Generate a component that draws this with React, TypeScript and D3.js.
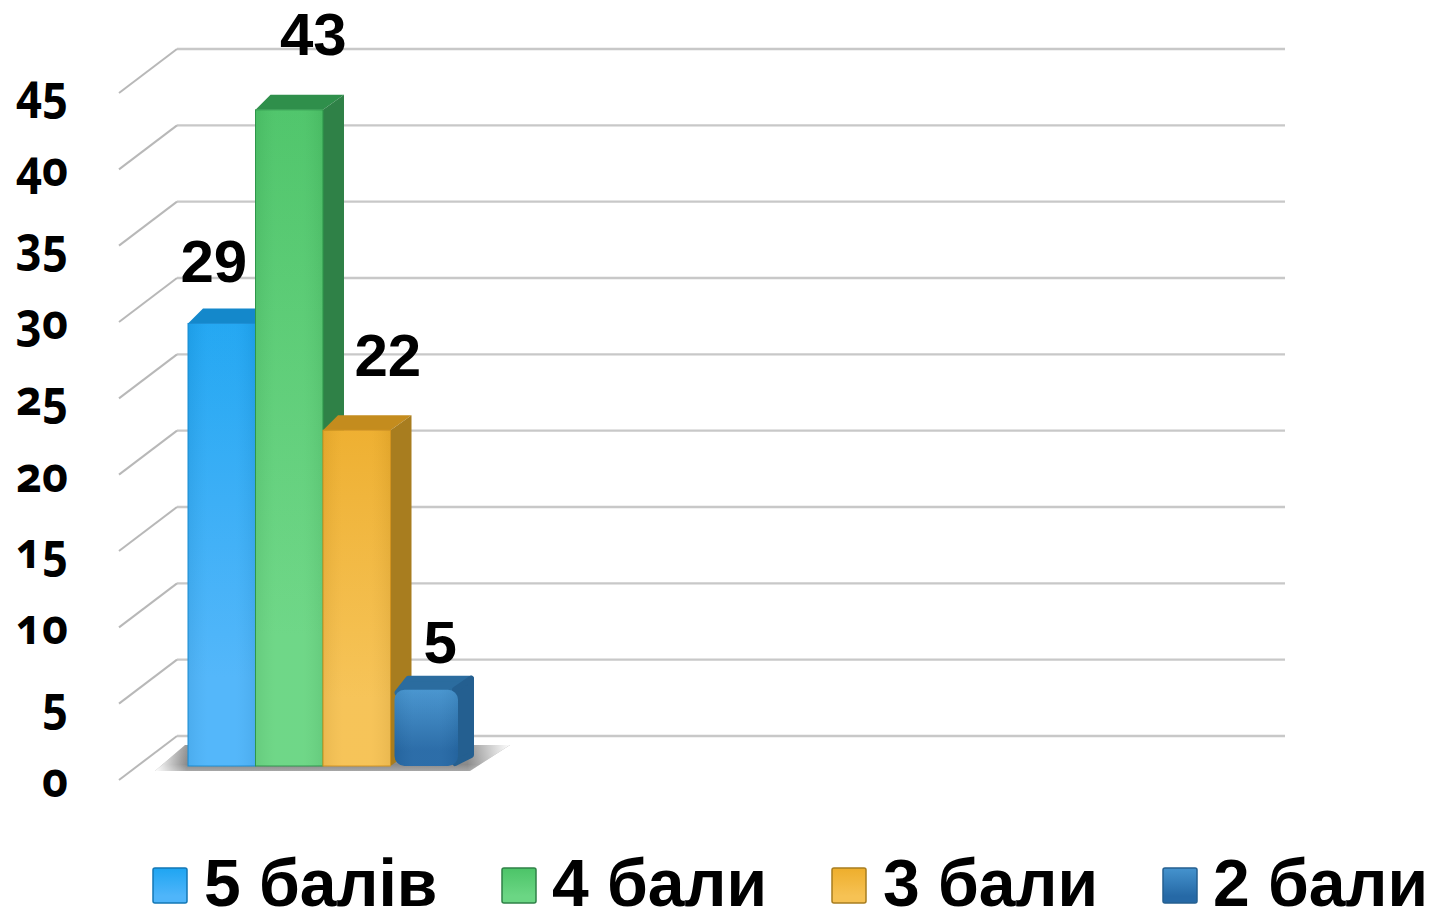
import React from "react";
import * as d3 from "d3";

const seriesNames = ["5 балів", "4 бали", "3 бали", "2 бали"];
const seriesValues = [29, 43, 22, 5];
const tickValues = [0, 5, 10, 15, 20, 25, 30, 35, 40, 45];
const palette = [
  { id: "blue", top: "#1ea5f2", bottom: "#4fb5fa", edge: "#1a8fd6", cap: "#1488cb", side: "#1377b5" },
  { id: "green", top: "#4cc468", bottom: "#6bd684", edge: "#2f9a4c", cap: "#2f8f4b", side: "#2f8147" },
  { id: "yellow", top: "#eeae2c", bottom: "#f6c254", edge: "#d8971f", cap: "#c48c1e", side: "#a87d1f" },
  { id: "navy", top: "#4593ce", bottom: "#2669a6", edge: "#2a6fa8", cap: "#2b6c9f", side: "#245f90" },
];
const labelDx = [-8, 24, 31, 16];
const labelDy = [41, 55, 54, 27];
const legendSwatchX = [153, 502, 832, 1163];
const legendTextX = [204, 552, 883, 1213];

const yWall = d3.scaleLinear().domain([0, 45]).range([736, 49]);
const yFront = d3.scaleLinear().domain([0, 45]).range([766, 766 - 45 * 15.26]);
const xBar = d3.scaleBand<string>().domain(seriesNames).range([188, 458]).padding(0);
const wallX = d3.scaleLinear().domain([0, 1]).range([177, 1285]);
const depth = { x: -58, y: 44 };
const barDepth = { x: 21, y: -15 };

const digitFont = "'Open Sans', 'Noto Sans', sans-serif";
const labelFont = "'Liberation Sans', Arial, sans-serif";

const linePath = d3.line<[number, number]>();

export default function App() {
  return (
    <svg width={1439} height={911} style={{ position: "absolute", left: 0, top: 0, background: "#fff" }}>
      <defs>
        {palette.map((c) => (
          <linearGradient key={c.id} id={`front-${c.id}`} x1="0" y1="0" x2="0" y2="1">
            <stop offset="0" stopColor={c.top} />
            <stop offset="0.8" stopColor={c.bottom} />
            <stop offset="1" stopColor={c.bottom} />
          </linearGradient>
        ))}
        <linearGradient id="sheen" x1="0" y1="0" x2="1" y2="0">
          <stop offset="0" stopColor="#000" stopOpacity="0.05" />
          <stop offset="0.3" stopColor="#fff" stopOpacity="0.03" />
          <stop offset="0.7" stopColor="#fff" stopOpacity="0.03" />
          <stop offset="1" stopColor="#000" stopOpacity="0.05" />
        </linearGradient>
        <linearGradient id="floor" x1="0" y1="1" x2="0" y2="0">
          <stop offset="0" stopColor="#a8a8a8" />
          <stop offset="0.25" stopColor="#8a8a8a" />
          <stop offset="1" stopColor="#9a9a9a" />
        </linearGradient>
        <linearGradient id="floorFade" x1="0" y1="0" x2="1" y2="0">
          <stop offset="0" stopColor="#fff" stopOpacity="1" />
          <stop offset="0.09" stopColor="#fff" stopOpacity="0" />
          <stop offset="0.88" stopColor="#fff" stopOpacity="0" />
          <stop offset="1" stopColor="#fff" stopOpacity="1" />
        </linearGradient>
        <filter id="soft" x="-5%" y="-30%" width="110%" height="160%">
          <feGaussianBlur stdDeviation="0.7" />
        </filter>
      </defs>

      {tickValues.map((t) => {
        const y = yWall(t);
        const ly = y + depth.y + 17;
        return (
          <g key={t}>
            <path d={linePath([[wallX(0), y], [wallX(1), y]]) ?? ""} stroke="#c8c8c8" strokeWidth={2.4} fill="none" />
            <path
              d={linePath([[wallX(0), y], [wallX(0) + depth.x, y + depth.y]]) ?? ""}
              stroke="#b8b8b8"
              strokeWidth={2}
              fill="none"
            />
            <text
              transform={`translate(68,${ly}) scale(0.9,1)`}
              textAnchor="end"
              fontFamily={digitFont}
              fontWeight={700}
              fontSize={50}
              fill="#000"
              style={{ fontFeatureSettings: "'onum'" }}
            >
              {t}
            </text>
          </g>
        );
      })}

      <g filter="url(#soft)">
        <polygon points="155,771 185,745 510,745 470,771" fill="url(#floor)" />
        <polygon points="155,771 185,745 510,745 470,771" fill="url(#floorFade)" />
      </g>

      {seriesNames.map((name, i) => {
        const c = palette[i];
        const navy = i === 3;
        const x0 = xBar(name)! + (navy ? 4 : 0);
        const x1 = xBar(name)! + xBar.bandwidth();
        const yTop = yFront(seriesValues[i]);
        const yBase = yFront(0);
        const dx = navy ? 13 : barDepth.x;
        const dy = navy ? -11 : barDepth.y;
        const inset = navy ? 3 : 0;
        return (
          <g key={name}>
            <polygon
              points={`${x0 + inset},${yTop + inset} ${x0 - dy + inset},${yTop + dy} ${x1 + dx},${yTop + dy} ${x1},${yTop + inset}`}
              fill={c.cap}
              strokeLinejoin="round"
              stroke={navy ? c.cap : "none"}
              strokeWidth={navy ? 6 : 0}
            />
            <polygon
              points={`${x1 - inset},${yTop} ${x1 + dx},${yTop + dy} ${x1 + dx},${yBase + dy} ${x1 - inset},${yBase - inset}`}
              fill={c.side}
              strokeLinejoin="round"
              stroke={navy ? c.side : "none"}
              strokeWidth={navy ? 6 : 0}
            />
            <rect
              x={x0}
              y={yTop}
              width={x1 - x0}
              height={yBase - yTop}
              rx={navy ? 10 : 0}
              fill={`url(#front-${c.id})`}
              stroke={navy ? "none" : c.edge}
              strokeWidth={1}
            />
            <rect x={x0} y={yTop} width={x1 - x0} height={yBase - yTop} rx={navy ? 10 : 0} fill="url(#sheen)" />
          </g>
        );
      })}

      {seriesNames.map((name, i) => (
        <text
          key={name}
          x={xBar(name)! + xBar.bandwidth() / 2 + labelDx[i]}
          y={yFront(seriesValues[i]) - labelDy[i]}
          textAnchor="middle"
          fontFamily={labelFont}
          fontWeight={700}
          fontSize={60}
          fill="#000"
        >
          {seriesValues[i]}
        </text>
      ))}

      {seriesNames.map((name, i) => {
        const c = palette[i];
        return (
          <g key={name}>
            <rect x={legendSwatchX[i]} y={868} width={34} height={35} rx={2} fill={`url(#front-${c.id})`} stroke={c.side} strokeWidth={1.5} />
            <text x={legendTextX[i]} y={906} fontFamily={labelFont} fontWeight={700} fontSize={66} fill="#000">
              {name}
            </text>
          </g>
        );
      })}
    </svg>
  );
}
